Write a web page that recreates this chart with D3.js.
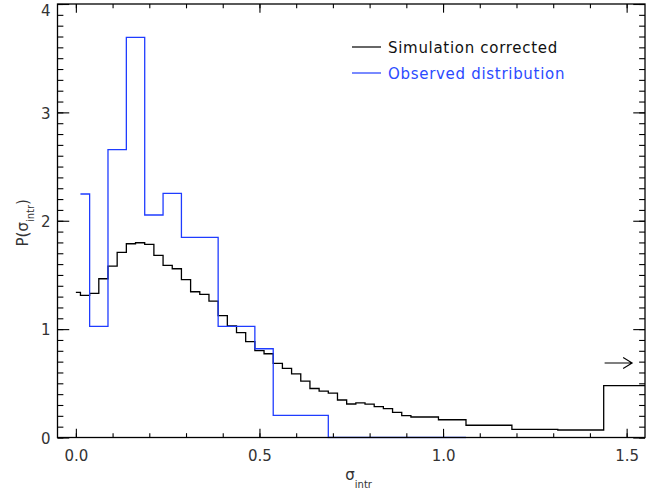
<!DOCTYPE html>
<html>
<head>
<meta charset="utf-8">
<script src="https://cdn.jsdelivr.net/npm/d3@7"></script>
<style>
  body { margin: 0; background: #fff; }
  svg { display: block; font-family: "DejaVu Sans", sans-serif; }
</style>
</head>
<body>
<div id="chart"></div>
<script>
// simulation corrected: bin centres every 0.025 from 0
const simStep = 0.025;
const simValues = [
  1.339, 1.312, 1.330, 1.465, 1.582, 1.708, 1.788, 1.797, 1.782, 1.681,
  1.589, 1.557, 1.456, 1.345, 1.321, 1.259, 1.124, 1.029, 0.967, 0.884,
  0.801, 0.773, 0.684, 0.638, 0.588, 0.520, 0.452, 0.428, 0.410, 0.346,
  0.309, 0.320, 0.308, 0.284, 0.266, 0.231, 0.201, 0.189, 0.189, 0.189,
  0.164, 0.164, 0.164, 0.113, 0.113, 0.113, 0.113, 0.113, 0.075, 0.075,
  0.075, 0.075, 0.075, 0.069, 0.069, 0.069, 0.069, 0.069, 0.479, 0.479,
  0.479, 0.479, 0.479
];
// observed distribution: bin centres every 0.05 from 0.0125
const obsStart = 0.0125;
const obsStep = 0.05;
const obsValues = [
  2.247, 1.026, 2.657, 3.692, 2.053, 2.253, 1.847, 1.847, 1.026, 1.026,
  0.819, 0.204, 0.204, 0.204, 0, 0, 0, 0, 0, 0, 0, 0
];
const xMajor = [0, 0.5, 1.0, 1.5];
const xMinor = d3.range(0, 16).map(i => i / 10);
const yMajor = [0, 1, 2, 3, 4];
const yMinor = d3.range(0, 41).map(i => i / 10);
const legendItems = [
  { label: "Simulation corrected", color: "#000000", text: "#111111" },
  { label: "Observed distribution", color: "#1f3cff", text: "#2b4bff" }
];
// overflow arrow (data units)
const arrowFrom = [1.44, 0.687];
const arrowTo = [1.515, 0.687];

const W = 664, H = 493;
const m = { left: 57.5, right: 645, top: 4, bottom: 437.5 };

const svg = d3.select("#chart").append("svg")
  .attr("width", W).attr("height", H);

const x = d3.scaleLinear().domain([-0.05, 1.55]).range([m.left, m.right]);
const y = d3.scaleLinear().domain([0, 4]).range([m.bottom, m.top]);

const pw = m.right - m.left, ph = m.bottom - m.top;
const xTickLen = 0.02 * ph, yTickLen = 0.02 * pw;

svg.append("clipPath").attr("id", "plot")
  .append("rect")
  .attr("x", m.left).attr("y", m.top - 1)
  .attr("width", pw).attr("height", ph + 2);

const sim = simValues.map((v, i) => [i * simStep, v]);
const obs = obsValues.map((v, i) => [obsStart + i * obsStep, v]);

const line = d3.line()
  .x(d => x(d[0]))
  .y(d => y(d[1]))
  .curve(d3.curveStep);

svg.append("path")
  .datum(sim)
  .attr("clip-path", "url(#plot)")
  .attr("fill", "none")
  .attr("stroke", legendItems[0].color)
  .attr("stroke-width", 1.3)
  .attr("d", line);

svg.append("path")
  .datum(obs)
  .attr("clip-path", "url(#plot)")
  .attr("fill", "none")
  .attr("stroke", legendItems[1].color)
  .attr("stroke-width", 1.3)
  .attr("d", line);

// axes, ticks on all four sides
const noDomain = g => g.select(".domain").remove();
const styleTicks = g => {
  g.selectAll("line").attr("stroke", "#000").attr("stroke-width", 1.1);
  g.selectAll("text").attr("fill", "#333").attr("font-size", 15)
    .attr("font-family", "DejaVu Sans, sans-serif");
};

function axisPair(axisFn, scale, major, minor, len, pos, labels) {
  svg.append("g")
    .attr("transform", pos)
    .call(axisFn(scale).tickValues(minor).tickSizeInner(-len / 2).tickSizeOuter(0).tickFormat(""))
    .call(noDomain).call(styleTicks);
  const a = axisFn(scale).tickValues(major).tickSizeInner(-len).tickSizeOuter(0);
  if (labels) a.tickFormat(labels.fmt).tickPadding(labels.pad); else a.tickFormat("");
  return svg.append("g").attr("transform", pos).call(a).call(noDomain).call(styleTicks);
}

axisPair(d3.axisBottom, x, xMajor, xMinor, xTickLen, `translate(0,${m.bottom})`,
  { fmt: d3.format(".1f"), pad: 13 });
axisPair(d3.axisTop, x, xMajor, xMinor, xTickLen, `translate(0,${m.top})`, null);
const gLeft = axisPair(d3.axisLeft, y, yMajor, yMinor, yTickLen, `translate(${m.left},0)`,
  { fmt: d3.format("d"), pad: 7 });
axisPair(d3.axisRight, y, yMajor, yMinor, yTickLen, `translate(${m.right},0)`, null);

// keep the top label inside the page
gLeft.selectAll(".tick text")
  .attr("y", d => Math.max(1, 11 - y(d)));

svg.append("rect")
  .attr("x", m.left).attr("y", m.top)
  .attr("width", pw).attr("height", ph)
  .attr("fill", "none").attr("stroke", "#000").attr("stroke-width", 1.3);

// axis titles
const xt = svg.append("text")
  .attr("x", (m.left + m.right) / 2 - 6).attr("y", 480)
  .attr("font-size", 15).attr("fill", "#333");
xt.append("tspan").text("σ");
xt.append("tspan").attr("dy", 8).attr("font-size", 10).text("intr");

const yt = svg.append("text")
  .attr("transform", `translate(28,${(m.top + m.bottom) / 2 + 2}) rotate(-90)`)
  .attr("text-anchor", "middle")
  .attr("font-size", 15).attr("fill", "#333");
yt.append("tspan").text("P(σ");
yt.append("tspan").attr("dy", 6).attr("font-size", 10).text("intr");
yt.append("tspan").attr("dy", -6).text(")");

// legend
const lg = svg.append("g").attr("transform", "translate(352,47)");
legendItems.forEach((d, i) => {
  const row = lg.append("g").attr("transform", `translate(0,${i * 26})`);
  row.append("line").attr("x1", 0).attr("x2", 29)
    .attr("stroke", d.color).attr("stroke-width", 1.2);
  row.append("text").attr("x", 36).attr("y", 6)
    .attr("font-size", 15).attr("fill", d.text)
    .attr("letter-spacing", 0.7)
    .text(d.label);
});

// overflow arrow
const ax0 = x(arrowFrom[0]), ax1 = x(arrowTo[0]), ay = y(arrowFrom[1]);
svg.append("path")
  .attr("d", `M${ax0},${ay}H${ax1}M${ax1 - 9},${ay - 5.5}L${ax1},${ay}L${ax1 - 9},${ay + 5.5}`)
  .attr("fill", "none").attr("stroke", "#000").attr("stroke-width", 1.1);
</script>
</body>
</html>
